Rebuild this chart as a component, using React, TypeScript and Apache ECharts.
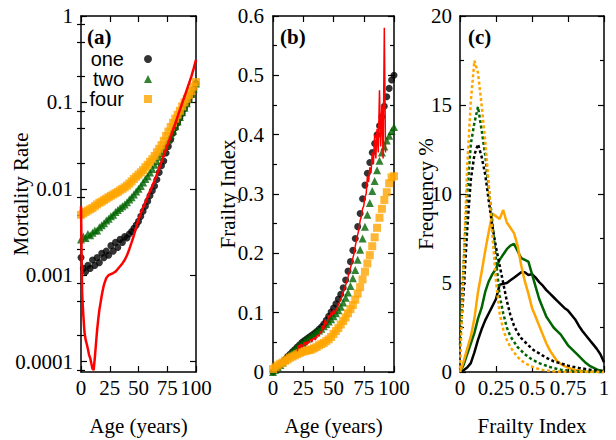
import { useEffect, useRef } from 'react';
import * as echarts from 'echarts';

const SERIF = '"Liberation Serif", "DejaVu Serif", serif';
const SANS = '"Liberation Sans", Arial, sans-serif';

// ---------- Panel (a): mortality rate vs age ----------
const agesSim = [0, 2, 4, 6, 8, 10, 12, 14, 16, 18, 20, 22, 24, 26, 28, 30, 32, 34, 36, 38, 40, 42, 44, 46, 48, 50, 52, 54, 56, 58, 60, 62, 64, 66, 68, 70, 72, 74, 76, 78, 80, 82, 84, 86, 88, 90, 92, 94, 96, 98, 100];
const mortalityOne = [
  0.0016, 0.0012, 0.0011, 0.0013, 0.0012, 0.0015, 0.0013, 0.0016, 0.0014, 0.0018,
  0.0016, 0.0019, 0.0017, 0.0022, 0.0019, 0.0024, 0.0021, 0.0026, 0.0024, 0.0028,
  0.0027, 0.0030, 0.0032, 0.0035, 0.0038, 0.0042, 0.0048, 0.0055, 0.0063, 0.0072,
  0.0083, 0.0095, 0.0108, 0.0128, 0.0155, 0.0185, 0.021, 0.026, 0.031, 0.037,
  0.044, 0.051, 0.058, 0.066, 0.075, 0.085, 0.096, 0.108, 0.122, 0.14,
  0.165,
];
const mortalityTwo = [
  0.0026, 0.0028, 0.0027, 0.0030, 0.0029, 0.0031, 0.0033, 0.0033, 0.0036, 0.0038,
  0.0040, 0.0043, 0.0045, 0.0048, 0.0050, 0.0054, 0.0057, 0.0060, 0.0063, 0.0066,
  0.0070, 0.0075, 0.0080, 0.0086, 0.0093, 0.0100, 0.0108, 0.0118, 0.0130, 0.0140,
  0.0155, 0.0170, 0.0190, 0.0210, 0.0235, 0.0260, 0.0290, 0.0330, 0.0370, 0.0420,
  0.0470, 0.0530, 0.0600, 0.0680, 0.0770, 0.0870, 0.0980, 0.1100, 0.1250, 0.1440,
  0.165,
];
const mortalityFour = [
  0.0050, 0.0052, 0.0054, 0.0056, 0.0058, 0.0060, 0.0063, 0.0066, 0.0069, 0.0071,
  0.0074, 0.0077, 0.0080, 0.0083, 0.0086, 0.0089, 0.0092, 0.0096, 0.0100, 0.0104,
  0.0109, 0.0115, 0.0122, 0.0130, 0.0138, 0.0146, 0.0155, 0.0165, 0.0178, 0.0190,
  0.0205, 0.0220, 0.0240, 0.0265, 0.0290, 0.0320, 0.0360, 0.0410, 0.0460, 0.0520,
  0.0580, 0.0650, 0.0720, 0.0800, 0.0900, 0.1000, 0.1100, 0.1220, 0.1350, 0.1520,
  0.172,
];
const agesObserved = [0, 1, 2, 3, 4, 5, 6, 7, 8, 9, 10, 11, 12, 13, 14, 15, 16, 17, 18, 19, 20, 22, 24, 26, 28, 30, 32, 34, 36, 38, 40, 42, 44, 46, 48, 50, 52, 54, 56, 58, 60, 62, 64, 66, 68, 70, 72, 74, 76, 78, 80, 82, 84, 86, 88, 90, 92, 94, 96, 98, 100];
const mortalityObserved = [
  0.0063, 0.0006, 0.00035, 0.00022, 0.00018, 0.00016, 0.00014, 0.00012, 0.00011, 0.000095, 0.000083,
  0.00008, 0.00011, 0.00016, 0.00023, 0.00031, 0.0004, 0.00048, 0.00058, 0.00068, 0.00078,
  0.00093, 0.001, 0.00103, 0.00106, 0.0011, 0.00118, 0.00127, 0.00137, 0.0015, 0.0017,
  0.002, 0.0024, 0.0029, 0.0036, 0.0044, 0.0052, 0.0061, 0.007, 0.0081, 0.0094,
  0.0108, 0.0125, 0.0147, 0.0173, 0.0205, 0.0243, 0.0288, 0.0342, 0.0405, 0.048,
  0.057, 0.0685, 0.082, 0.098, 0.117, 0.14, 0.167, 0.2, 0.248, 0.31,
];
const mortalityMajorTicks = [0.0001, 0.001, 0.01, 0.1, 1];
const mortalityMinorTicks = [0.00008, 0.0002, 0.0005, 0.0008, 0.002, 0.005, 0.008, 0.02, 0.05, 0.08, 0.2, 0.5, 0.8];
const mortalityMin = 0.0000759;
const mortalityMax = 1;

// ---------- Panel (b): frailty index vs age ----------
const frailtyOne = [
  0.0, 0.004, 0.008, 0.012, 0.016, 0.021, 0.026, 0.030, 0.034, 0.038,
  0.042, 0.046, 0.050, 0.053, 0.056, 0.059, 0.062, 0.065, 0.068, 0.072,
  0.076, 0.081, 0.087, 0.094, 0.101, 0.108, 0.115, 0.123, 0.131, 0.142,
  0.155, 0.170, 0.186, 0.205, 0.225, 0.245, 0.267, 0.292, 0.315, 0.335,
  0.353, 0.370, 0.385, 0.400, 0.415, 0.430, 0.448, 0.464, 0.478, 0.492,
  0.500,
];
const frailtyTwo = [
  0.0, 0.004, 0.008, 0.012, 0.016, 0.021, 0.026, 0.030, 0.034, 0.038,
  0.042, 0.046, 0.049, 0.052, 0.055, 0.058, 0.061, 0.064, 0.067, 0.070,
  0.073, 0.077, 0.081, 0.085, 0.089, 0.094, 0.099, 0.104, 0.110, 0.117,
  0.125, 0.134, 0.145, 0.158, 0.172, 0.189, 0.206, 0.225, 0.245, 0.265,
  0.285, 0.305, 0.322, 0.340, 0.356, 0.370, 0.380, 0.390, 0.398, 0.406,
  0.413,
];
const frailtyFour = [
  0.005, 0.008, 0.011, 0.014, 0.016, 0.019, 0.021, 0.024, 0.026, 0.028,
  0.030, 0.032, 0.034, 0.035, 0.036, 0.037, 0.038, 0.040, 0.042, 0.045,
  0.047, 0.049, 0.052, 0.055, 0.059, 0.064, 0.069, 0.074, 0.080, 0.086,
  0.092, 0.099, 0.106, 0.113, 0.122, 0.132, 0.143, 0.156, 0.169, 0.183,
  0.197, 0.212, 0.227, 0.243, 0.260, 0.275, 0.290, 0.303, 0.318, 0.328,
  0.330,
];
const agesObservedFI = [20, 21, 22, 23, 24, 25, 26, 27, 28, 29, 30, 31, 32, 33, 34, 35, 36, 37, 38, 39, 40, 41, 42, 43, 44, 45, 46, 47, 48, 49, 50, 51, 52, 53, 54, 55, 56, 57, 58, 59, 60, 61, 62, 63, 64, 65, 66, 67, 68, 69, 70, 71, 72, 73, 74, 75, 76, 77, 78, 79, 80, 81, 82, 83, 84, 85, 86, 87, 88, 89, 90, 91, 92, 93];
const frailtyObserved = [
  0.035, 0.045, 0.040, 0.047, 0.042, 0.046, 0.050, 0.044, 0.051, 0.048,
  0.052, 0.055, 0.050, 0.056, 0.058, 0.054, 0.060, 0.063, 0.060, 0.068,
  0.066, 0.078, 0.072, 0.088, 0.080, 0.085, 0.095, 0.092, 0.100, 0.096,
  0.105, 0.098, 0.104, 0.108, 0.113, 0.118, 0.122, 0.128, 0.134, 0.140,
  0.146, 0.152, 0.160, 0.168, 0.175, 0.183, 0.192, 0.200, 0.212, 0.222,
  0.232, 0.240, 0.255, 0.262, 0.275, 0.280, 0.295, 0.300, 0.330, 0.320,
  0.345, 0.335, 0.370, 0.350, 0.400, 0.360, 0.410, 0.370, 0.475, 0.380,
  0.450, 0.360, 0.580, 0.370,
];

// ---------- Panel (c): frailty index distributions ----------
const fiBins = [0, 0.025, 0.05, 0.075, 0.1, 0.125, 0.15, 0.175, 0.2, 0.225, 0.25, 0.275, 0.3, 0.325, 0.35, 0.375, 0.4, 0.425, 0.45, 0.475, 0.5, 0.525, 0.55, 0.575, 0.6, 0.625, 0.65, 0.675, 0.7, 0.725, 0.75, 0.775, 0.8, 0.825, 0.85, 0.875, 0.9, 0.925, 0.95, 0.975, 1];
const freqOneSolid = [0, 0.1, 0.25, 0.5, 1.1, 1.8, 2.4, 2.9, 3.3, 3.7, 4.1, 4.9, 4.95, 5.0, 5.15, 5.3, 5.45, 5.6, 5.6, 5.45, 5.5, 5.3, 5.05, 4.85, 4.6, 4.4, 4.2, 4.0, 3.8, 3.6, 3.45, 3.2, 2.95, 2.6, 2.3, 2.05, 1.8, 1.55, 1.3, 1.0, 0.55];
const freqTwoSolid = [0, 0.4, 1.0, 1.6, 2.2, 3.0, 3.6, 4.5, 5.1, 5.5, 5.8, 6.3, 6.6, 6.9, 7.1, 7.2, 6.8, 6.4, 6.3, 6.2, 5.5, 4.8, 4.1, 3.6, 3.1, 2.8, 2.5, 2.3, 2.1, 1.8, 1.5, 1.3, 1.1, 0.9, 0.7, 0.5, 0.35, 0.25, 0.15, 0.08, 0.05];
const freqFourSolid = [0, 0.6, 1.3, 2.0, 3.0, 4.5, 5.6, 6.8, 7.9, 8.9, 8.75, 8.6, 9.1, 8.4, 8.1, 7.8, 7.1, 6.0, 5.1, 4.4, 3.6, 3.1, 2.6, 2.1, 1.6, 1.2, 0.9, 0.6, 0.45, 0.33, 0.25, 0.17, 0.12, 0.08, 0.05, 0.03, 0.02, 0.01, 0, 0, 0];
const freqOneDotted = [1.8, 4.5, 8.0, 10.8, 12.2, 12.8, 12.1, 11.1, 9.6, 8.2, 7.0, 6.0, 5.0, 4.0, 3.2, 2.6, 2.2, 1.9, 1.7, 1.5, 1.3, 1.15, 1.05, 0.92, 0.8, 0.7, 0.6, 0.54, 0.48, 0.42, 0.36, 0.31, 0.27, 0.23, 0.2, 0.16, 0.13, 0.1, 0.07, 0.05, 0.03];
const freqTwoDotted = [1.5, 6.0, 10.0, 12.8, 14.0, 14.9, 13.6, 12.2, 10.3, 8.4, 6.3, 4.3, 3.3, 2.5, 2.0, 1.7, 1.4, 1.2, 1.0, 0.85, 0.7, 0.6, 0.5, 0.42, 0.35, 0.28, 0.22, 0.17, 0.13, 0.1, 0.08, 0.06, 0.04, 0.03, 0.02, 0.01, 0, 0, 0, 0, 0];
const freqFourDotted = [0.2, 6.0, 11.5, 15.2, 17.5, 16.8, 15.0, 13.0, 10.5, 7.7, 5.1, 3.3, 2.4, 1.8, 1.4, 1.1, 0.85, 0.65, 0.5, 0.4, 0.3, 0.22, 0.16, 0.12, 0.09, 0.06, 0.04, 0.03, 0.02, 0.01, 0, 0, 0, 0, 0, 0, 0, 0, 0, 0, 0];

const BLACK = '#000000';
const GREEN = '#006400';
const ORANGE = '#ffa500';
const RED = '#ff0000';

const lg = (v: number) => Math.log10(v);
const pairs = (xs: number[], ys: number[], f: (v: number) => number = (v) => v) =>
  xs.map((x, i) => [x, f(ys[i])]);

const lineStyleAxis = { color: '#000', width: 1.5 };
const tickLine = { color: '#000', width: 1.2 };
const labelFont = { color: '#000', fontFamily: SERIF, fontSize: 21 };
const nameFont = { color: '#000', fontFamily: SERIF, fontSize: 21 };

function xAxes(grid: number, min: number, max: number, interval: number, name: string) {
  return [
    {
      type: 'value', gridIndex: grid, position: 'bottom', min, max, interval,
      axisLine: { show: true, onZero: false, lineStyle: lineStyleAxis },
      axisTick: { show: true, inside: true, length: 6, lineStyle: tickLine },
      axisLabel: { ...labelFont, margin: 5 },
      splitLine: { show: false },
      name, nameLocation: 'middle', nameGap: 43, nameTextStyle: nameFont, nameMoveOverlap: false,
    },
    {
      type: 'value', gridIndex: grid, position: 'top', min, max, interval,
      axisLine: { show: true, onZero: false, lineStyle: lineStyleAxis },
      axisTick: { show: true, inside: true, length: 6, lineStyle: tickLine },
      axisLabel: { show: false },
      splitLine: { show: false },
    },
  ];
}

function linearYAxes(grid: number, min: number, max: number, interval: number, name: string, nameGap: number, labelMargin: number) {
  const common = {
    type: 'value', gridIndex: grid, min, max, interval,
    axisLine: { show: true, onZero: false, lineStyle: lineStyleAxis },
    axisTick: { show: true, inside: true, length: 6, lineStyle: tickLine },
    minorTick: { show: true, splitNumber: 2, length: 4, lineStyle: tickLine },
    splitLine: { show: false },
    minorSplitLine: { show: false },
  };
  return [
    {
      ...common, position: 'left',
      axisLabel: { ...labelFont, margin: labelMargin },
      name, nameLocation: 'middle', nameGap, nameTextStyle: nameFont, nameMoveOverlap: false,
    },
    { ...common, position: 'right', axisLabel: { show: false } },
  ];
}

const mortalityLabel: Record<string, string> = { '-4': '0.0001', '-3': '0.001', '-2': '0.01', '-1': '0.1', '0': '1' };

function logYAxes(grid: number) {
  const base = {
    type: 'value', gridIndex: grid, min: lg(mortalityMin), max: lg(mortalityMax),
    splitLine: { show: false },
  };
  const major = mortalityMajorTicks.map(lg);
  const minor = mortalityMinorTicks.map(lg);
  return [
    {
      ...base, position: 'left',
      axisLine: { show: true, onZero: false, lineStyle: lineStyleAxis },
      axisTick: { show: true, inside: true, length: 6, lineStyle: tickLine, customValues: major },
      axisLabel: {
        ...labelFont, margin: 8, customValues: major,
        formatter: (v: number) => mortalityLabel[String(Math.round(v))],
      },
      name: 'Mortality Rate', nameLocation: 'middle', nameGap: 50, nameTextStyle: nameFont, nameMoveOverlap: false,
    },
    {
      ...base, position: 'left',
      axisLine: { show: false },
      axisTick: { show: true, inside: true, length: 4, lineStyle: tickLine, customValues: minor },
      axisLabel: { show: false },
    },
    {
      ...base, position: 'right',
      axisLine: { show: true, onZero: false, lineStyle: lineStyleAxis },
      axisTick: { show: true, inside: true, length: 6, lineStyle: tickLine, customValues: major },
      axisLabel: { show: false },
    },
    {
      ...base, position: 'right',
      axisLine: { show: false },
      axisTick: { show: true, inside: true, length: 4, lineStyle: tickLine, customValues: minor },
      axisLabel: { show: false },
    },
  ];
}

function buildOption() {
  const xAxis = [
    ...xAxes(0, 0, 100, 25, 'Age (years)'),
    ...xAxes(1, 0, 100, 25, 'Age (years)'),
    ...xAxes(2, 0, 1, 0.25, 'Frailty Index'),
  ];
  // y axis indices: 0-3 panel a, 4-5 panel b, 6-7 panel c
  const yAxis = [
    ...logYAxes(0),
    ...linearYAxes(1, 0, 0.6, 0.1, 'Frailty Index', 35, 9),
    ...linearYAxes(2, 0, 20, 5, 'Frequency %', 24, 8),
  ];

  const scatter = (name: string, x: number, y: number, data: number[][], symbol: string, size: number, color: string) => ({
    type: 'scatter', name, xAxisIndex: x, yAxisIndex: y, data, symbol, symbolSize: size,
    itemStyle: { color }, emphasis: { disabled: true },
  });
  const line = (name: string, x: number, y: number, data: number[][], color: string, width: number, dashed = false) => ({
    type: 'line', name, xAxisIndex: x, yAxisIndex: y, data, symbol: 'none', showSymbol: false,
    lineStyle: { color, width, type: dashed ? [3, 2.5] : 'solid' },
    itemStyle: { color }, emphasis: { disabled: true },
  });

  const series = [
    // panel (a)
    scatter('one', 0, 0, pairs(agesSim, mortalityOne, lg), 'circle', 7, BLACK),
    scatter('two', 0, 0, pairs(agesSim, mortalityTwo, lg), 'triangle', 8, GREEN),
    scatter('four', 0, 0, pairs(agesSim, mortalityFour, lg), 'rect', 8, ORANGE),
    line('observed', 0, 0, pairs(agesObserved, mortalityObserved, lg), RED, 2.5),
    // panel (b)
    scatter('one', 2, 4, pairs(agesSim, frailtyOne), 'circle', 7, BLACK),
    scatter('two', 2, 4, pairs(agesSim, frailtyTwo), 'triangle', 8, GREEN),
    scatter('four', 2, 4, pairs(agesSim, frailtyFour), 'rect', 8, ORANGE),
    line('observed', 2, 4, pairs(agesObservedFI, frailtyObserved), RED, 1.5),
    // panel (c)
    line('one', 4, 6, pairs(fiBins, freqOneSolid), BLACK, 2.5),
    line('two', 4, 6, pairs(fiBins, freqTwoSolid), GREEN, 2.5),
    line('four', 4, 6, pairs(fiBins, freqFourSolid), ORANGE, 2.5),
    line('one', 4, 6, pairs(fiBins, freqOneDotted), BLACK, 2.5, true),
    line('two', 4, 6, pairs(fiBins, freqTwoDotted), GREEN, 2.5, true),
    line('four', 4, 6, pairs(fiBins, freqFourDotted), ORANGE, 2.5, true),
  ];

  const panelLabel = (text: string, x: number) => ({
    type: 'text', x, y: 37, z: 100,
    style: { text, fill: '#000', fontFamily: SERIF, fontSize: 21, fontWeight: 'bold', verticalAlign: 'middle' },
  });

  return {
    animation: false,
    backgroundColor: '#ffffff',
    grid: [
      { left: 81, top: 16, width: 115, height: 356, containLabel: false, outerBoundsMode: 'none' },
      { left: 273, top: 16, width: 121, height: 356, containLabel: false, outerBoundsMode: 'none' },
      { left: 460, top: 16, width: 144, height: 356, containLabel: false, outerBoundsMode: 'none' },
    ],
    xAxis,
    yAxis,
    legend: {
      data: ['one', 'two', 'four'],
      orient: 'vertical',
      align: 'right',
      right: 464,
      top: 49,
      padding: 0,
      itemWidth: 8,
      itemHeight: 8,
      itemGap: 0,
      selectedMode: false,
      textStyle: { fontFamily: SANS, fontSize: 20, color: '#000', padding: [0, 15, 0, 0] },
    },
    graphic: [panelLabel('(a)', 87), panelLabel('(b)', 280), panelLabel('(c)', 468)],
    series,
  };
}

export default function App() {
  const ref = useRef<HTMLDivElement>(null);
  useEffect(() => {
    if (!ref.current) return;
    const chart = echarts.init(ref.current, null, { renderer: 'svg' });
    chart.setOption(buildOption() as any);
    return () => chart.dispose();
  }, []);
  return <div ref={ref} style={{ position: 'absolute', left: 0, top: 0, width: 616, height: 440 }} />;
}
